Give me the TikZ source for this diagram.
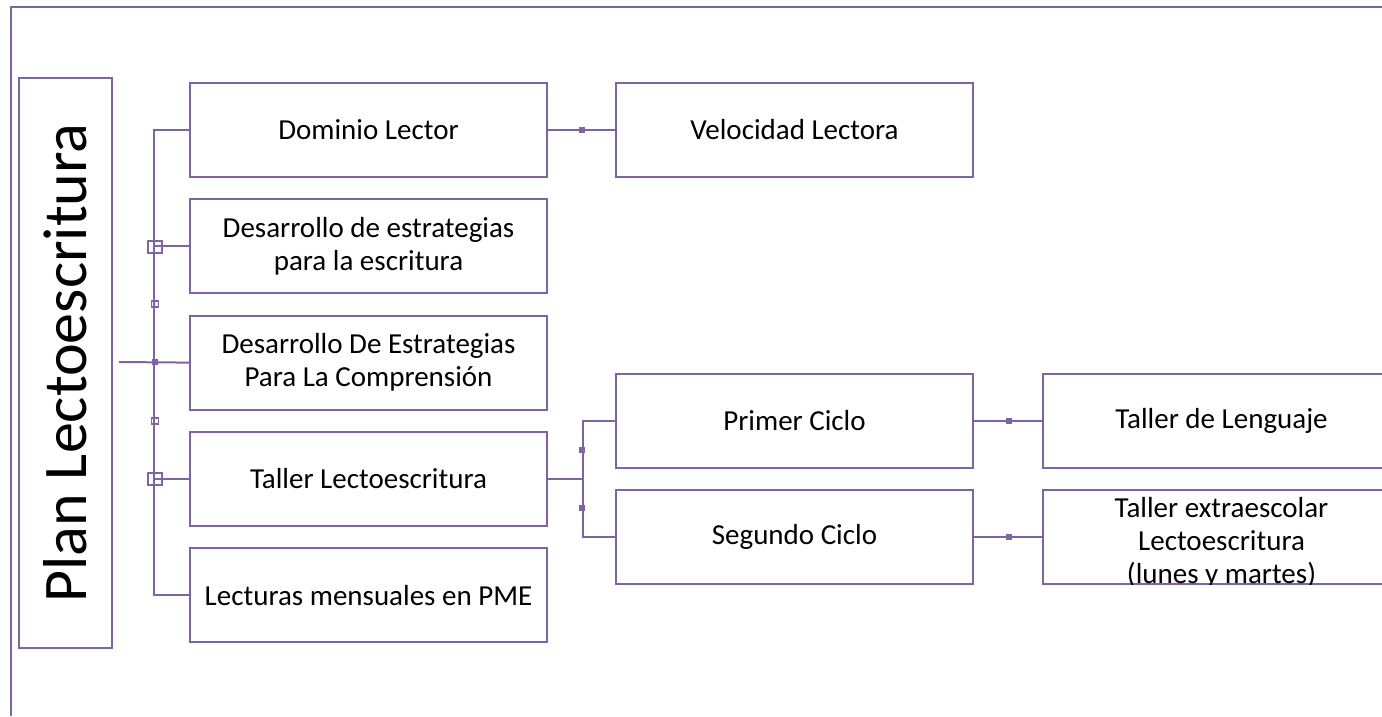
\documentclass[tikz,border=0pt]{standalone}
\usepackage{fontspec}
\setmainfont{Carlito}
\usepackage{tikz}
\usetikzlibrary{positioning, calc}
\definecolor{lila}{RGB}{128,100,162}
\tikzstyle{line} = [draw=lila, line width=2pt]
\tikzstyle{topic} = [rectangle, draw=lila, line width=2pt, minimum width=357pt, minimum height=94pt, align=center, inner ysep=0pt, font=\fontsize{29}{33}\selectfont]
\tikzstyle{handle} = [draw=lila, line width=1.2pt]

\begin{document}
\begin{tikzpicture}[x=1pt, y=1pt, node distance=116.3pt]
        \useasboundingbox (0,0) rectangle (1382,-716);
        \draw [line] (1382,-7) -- (11,-7) -- (11,-716);
        \node (plan) [rectangle, draw=lila, line width=2pt, rotate=90, minimum width=570pt, minimum height=93pt, font=\fontsize{62}{64}\selectfont] at (65.5,-363) {Plan Lectoescritura};

        \node (dominio) [topic] at (368.5,-130) {Dominio Lector};
        \node (escritura) [topic, below of=dominio] {Desarrollo de estrategias\\para la escritura};
        \node (comprension) [topic, below of=escritura] {Desarrollo De Estrategias\\Para La Comprensión};
        \node (taller) [topic, below of=comprension] {Taller Lectoescritura};
        \node (lecturas) [topic, below of=taller] {Lecturas mensuales en PME};
        \node (velocidad) [topic, right of=dominio, node distance=426pt] {Velocidad Lectora};
        \node (primer) [topic, right of=taller, node distance=426pt, yshift=58pt] {Primer Ciclo};
        \node (segundo) [topic, right of=taller, node distance=426pt, yshift=-58pt] {Segundo Ciclo};
        \node (lenguaje) [topic, right of=primer, node distance=427pt] {Taller de Lenguaje};
        \node (extra) [topic, right of=segundo, node distance=427pt] {};
        \begin{scope}
            \clip (extra.south west) rectangle (extra.north east);
            \node (extratext) [align=center, font=\fontsize{29}{33}\selectfont] at ([yshift=-6pt]extra.center) {Taller extraescolar\\Lectoescritura\\(lunes y martes)};
        \end{scope}

        \coordinate (root) at (119,-362);
        \draw [line] (root) -- (comprension.west);
        \draw [line] (dominio.west) -| ([xshift=-35pt]lecturas.west) -- (lecturas.west);
        \draw [line] (escritura.west) -- ++(-35,0);
        \draw [line] (taller.west) -- ++(-35,0);
        \draw [line] (dominio) -- (velocidad);
        \draw [line] (taller.east) -- ++(35,0) |- (primer.west);
        \draw [line] (taller.east) -- ++(35,0) |- (segundo.west);
        \draw [line] (primer) -- (lenguaje);
        \draw [line] (segundo) -- (extra);

        % selection handles
        \foreach \p in {(155,-247), (155,-479)}
            \draw [handle] \p +(-7,-6) rectangle +(7,6);
        \foreach \p in {(155,-304), (155,-421)}
            \draw [handle] \p +(-3.5,-3) rectangle +(3.5,3);
        \foreach \p in {(155,-362), (582,-130), (582,-450), (582,-508), (1009,-421), (1009,-537)}
            \fill [lila] \p +(-3,-3) rectangle +(3,3);
\end{tikzpicture}
\end{document}
